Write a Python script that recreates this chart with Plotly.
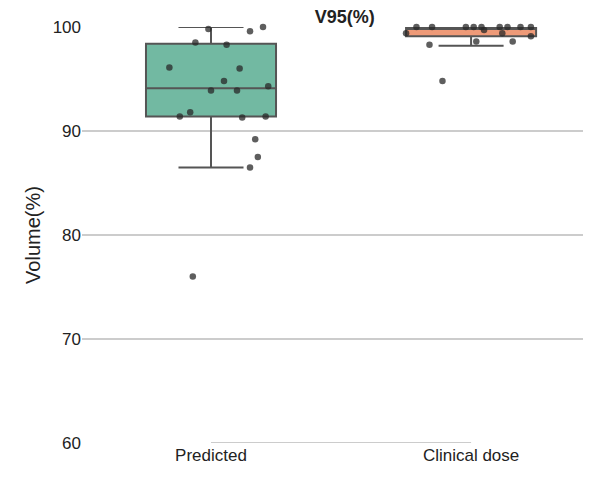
import plotly.graph_objects as go

# box statistics
categories = ["Predicted", "Clinical dose"]
q1 = [91.4, 99.1]
median = [94.1, 99.8]
q3 = [98.4, 100.0]
lower_fence = [86.5, 98.2]
upper_fence = [100.0, 100.0]

# strip points: horizontal offset from category centre, value
pred_dx = [-0.01, 0.15, 0.20, -0.06, 0.06, -0.16, 0.11, 0.05, 0.0, 0.10, 0.22,
           -0.12, -0.08, 0.12, 0.21, 0.17, 0.18, 0.15, -0.07]
pred_y = [99.8, 99.6, 100.0, 98.5, 98.3, 96.1, 96.0, 94.8, 93.9, 93.9, 94.3,
          91.4, 91.8, 91.3, 91.4, 89.2, 87.5, 86.5, 76.0]
clin_dx = [-0.25, -0.21, -0.15, -0.02, 0.01, 0.04, 0.05, 0.11, 0.14, 0.19, 0.23,
           0.12, 0.23, -0.16, 0.02, 0.16, -0.11]
clin_y = [99.4, 100.0, 100.0, 100.0, 100.0, 100.0, 99.7, 100.0, 100.0, 100.0, 100.0,
          99.4, 99.1, 98.3, 98.6, 98.6, 94.8]

fills = ["#72b9a2", "#ee9a78"]

fig = go.Figure()
for i in range(2):
    fig.add_trace(go.Box(
        x=[i], q1=[q1[i]], median=[median[i]], q3=[q3[i]],
        lowerfence=[lower_fence[i]], upperfence=[upper_fence[i]],
        width=0.5, fillcolor=fills[i], line=dict(color="#555555", width=2),
        whiskerwidth=0.5, boxpoints=False, showlegend=False, hoverinfo="skip",
    ))

fig.add_trace(go.Scatter(
    x=[0 + d for d in pred_dx] + [1 + d for d in clin_dx],
    y=pred_y + clin_y, mode="markers",
    marker=dict(color="rgba(40,40,40,0.75)", size=6.5), showlegend=False,
    cliponaxis=False,
))

fig.add_shape(type="line", x0=0, x1=1, y0=60, y1=60, xref="x", yref="y",
              line=dict(color="#cccccc", width=2))

fig.update_layout(
    width=591, height=478,
    margin=dict(l=74, r=1, t=19, b=43),
    plot_bgcolor="white", paper_bgcolor="white",
    font=dict(family="Liberation Sans, Arial, sans-serif", size=17, color="#222222"),
    title=dict(text="<b>V95(%)</b>", x=0.57, xanchor="center", y=0.995, yanchor="top",
               font=dict(size=18)),
)
fig.update_xaxes(
    range=[-0.496, 1.488], tickvals=[0, 1], ticktext=categories,
    showgrid=False, zeroline=False, showline=False, ticks="",
)
fig.update_yaxes(
    range=[60, 100], tickvals=[60, 70, 80, 90, 100],
    showgrid=True, gridcolor="#cccccc", gridwidth=1.5, zeroline=False,
    title=dict(text="Volume(%)", font=dict(size=20), standoff=6),
)

fig.write_html("out.html")
